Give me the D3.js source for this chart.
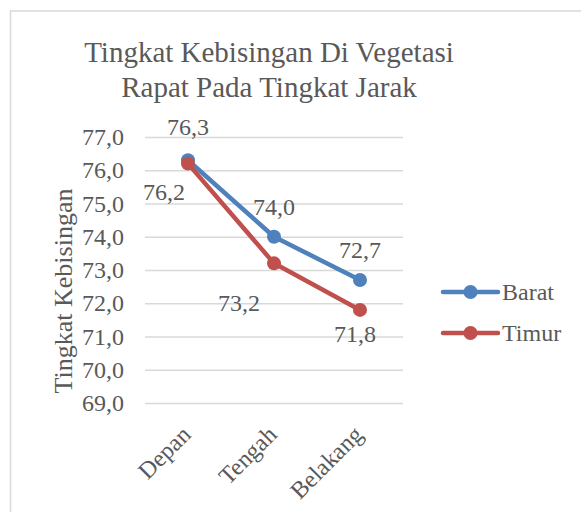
<!DOCTYPE html>
<html>
<head>
<meta charset="utf-8">
<script src="https://cdn.jsdelivr.net/npm/d3@7"></script>
<style>
  body { margin: 0; background: #fff; }
  text { font-family: "Liberation Serif", "Times New Roman", serif; fill: #595959; }
</style>
</head>
<body>
<svg id="chart" width="581" height="512"></svg>
<script>
var categories = ["Depan", "Tengah", "Belakang"];
var seriesNames = ["Barat", "Timur"];
var barat = [76.3, 74.0, 72.7];
var timur = [76.2, 73.2, 71.8];
var yTicks = [69, 70, 71, 72, 73, 74, 75, 76, 77];
var colors = ["#4F81BD", "#C0504D"];

var data = [
    { id: "Barat", values: barat },
    { id: "Timur", values: timur }
];

var svg = d3.select("#chart");

// chart border
svg.append("rect")
    .attr("x", 10.5).attr("y", 11)
    .attr("width", 600).attr("height", 520)
    .attr("fill", "none")
    .attr("stroke", "#D9D9D9")
    .attr("stroke-width", 1.5);

// title
var title = svg.append("text")
    .attr("text-anchor", "middle")
    .style("font-size", "29px");
title.append("tspan").attr("x", 269).attr("y", 62).text("Tingkat Kebisingan Di Vegetasi");
title.append("tspan").attr("x", 269).attr("y", 97).text("Rapat Pada Tingkat Jarak");

var plotLeft = 145, plotRight = 403, plotTop = 137, plotBottom = 403;

var x = d3.scaleBand().domain(categories).range([plotLeft, plotRight]);
var y = d3.scaleLinear().domain([69, 77]).range([plotBottom, plotTop]);
var color = d3.scaleOrdinal().domain(seriesNames).range(colors);

var fmt = function(v) { return d3.format(".1f")(v).replace(".", ","); };

// gridlines
svg.append("g")
    .attr("class", "grid")
    .attr("transform", "translate(" + plotLeft + ",0)")
    .call(d3.axisLeft(y).tickValues(yTicks).tickSize(-(plotRight - plotLeft)).tickFormat(""))
    .call(g => g.select(".domain").remove())
    .call(g => g.selectAll("line").attr("stroke", "#D9D9D9").attr("stroke-width", 1.5));

// y axis labels
svg.append("g")
    .attr("transform", "translate(" + (plotLeft - 21) + ",0)")
    .call(d3.axisLeft(y).tickValues(yTicks).tickSize(0).tickPadding(0).tickFormat(fmt))
    .call(g => g.select(".domain").remove())
    .call(g => g.selectAll("text")
        .style("font-size", "24px")
        .style("font-family", "Liberation Serif, serif")
        .attr("fill", "#595959"));

// x axis labels
svg.append("g")
    .attr("transform", "translate(0," + plotBottom + ")")
    .call(d3.axisBottom(x).tickSize(0).tickFormat(d => d))
    .call(g => g.select(".domain").remove())
    .call(g => g.selectAll("text")
        .style("font-size", "24px")
        .style("font-family", "Liberation Serif, serif")
        .attr("fill", "#595959")
        .attr("text-anchor", "end")
        .attr("dy", 0)
        .attr("transform", "translate(2,31) rotate(-45)"));

// y axis title
svg.append("text")
    .attr("transform", "translate(72,291) rotate(-90)")
    .attr("text-anchor", "middle")
    .style("font-size", "26px")
    .text("Tingkat Kebisingan");

var lineDraw = d3.line()
    .x((d, i) => x(categories[i]) + x.bandwidth() / 2)
    .y(d => y(d));

var lines = svg.selectAll(".dataLine")
    .data(data)
    .enter().append("g")
    .attr("class", "dataLine");

lines.append("path")
    .attr("d", d => lineDraw(d.values))
    .attr("fill", "none")
    .attr("stroke", d => color(d.id))
    .attr("stroke-width", 4.5)
    .attr("stroke-linejoin", "round");

lines.selectAll("circle")
    .data(d => d.values.map((v, i) => ({ id: d.id, v: v, cat: categories[i] })))
    .enter().append("circle")
    .attr("r", 7)
    .attr("fill", d => color(d.id))
    .attr("cx", d => x(d.cat) + x.bandwidth() / 2)
    .attr("cy", d => y(d.v));

// data labels (offset from the point)
var labelOffsets = {
    Barat: [[0, -25], [0, -22], [0, -22]],
    Timur: [[-3, 36], [-14, 48], [-5, 32]]
};
lines.selectAll(".lbl")
    .data(d => d.values.map((v, i) => ({ id: d.id, v: v, i: i })))
    .enter().append("text")
    .attr("class", "lbl")
    .attr("text-anchor", d => (d.id === "Timur" && d.i < 2) ? "end" : "middle")
    .style("font-size", "24px")
    .attr("x", d => x(categories[d.i]) + x.bandwidth() / 2 + labelOffsets[d.id][d.i][0])
    .attr("y", d => y(d.v) + labelOffsets[d.id][d.i][1])
    .text(d => fmt(d.v));

// legend
var lg = svg.append("g")
    .selectAll("g")
    .data(seriesNames)
    .enter().append("g")
    .attr("transform", (d, i) => "translate(443," + (292 + i * 41) + ")");

lg.append("line")
    .attr("x1", 0).attr("x2", 55)
    .attr("stroke", d => color(d))
    .attr("stroke-width", 4.5)
    .attr("stroke-linecap", "round");

lg.append("circle")
    .attr("cx", 27.5)
    .attr("r", 7)
    .attr("fill", d => color(d));

lg.append("text")
    .attr("x", 59)
    .attr("dy", "0.35em")
    .style("font-size", "24px")
    .text(d => d);
</script>
</body>
</html>
